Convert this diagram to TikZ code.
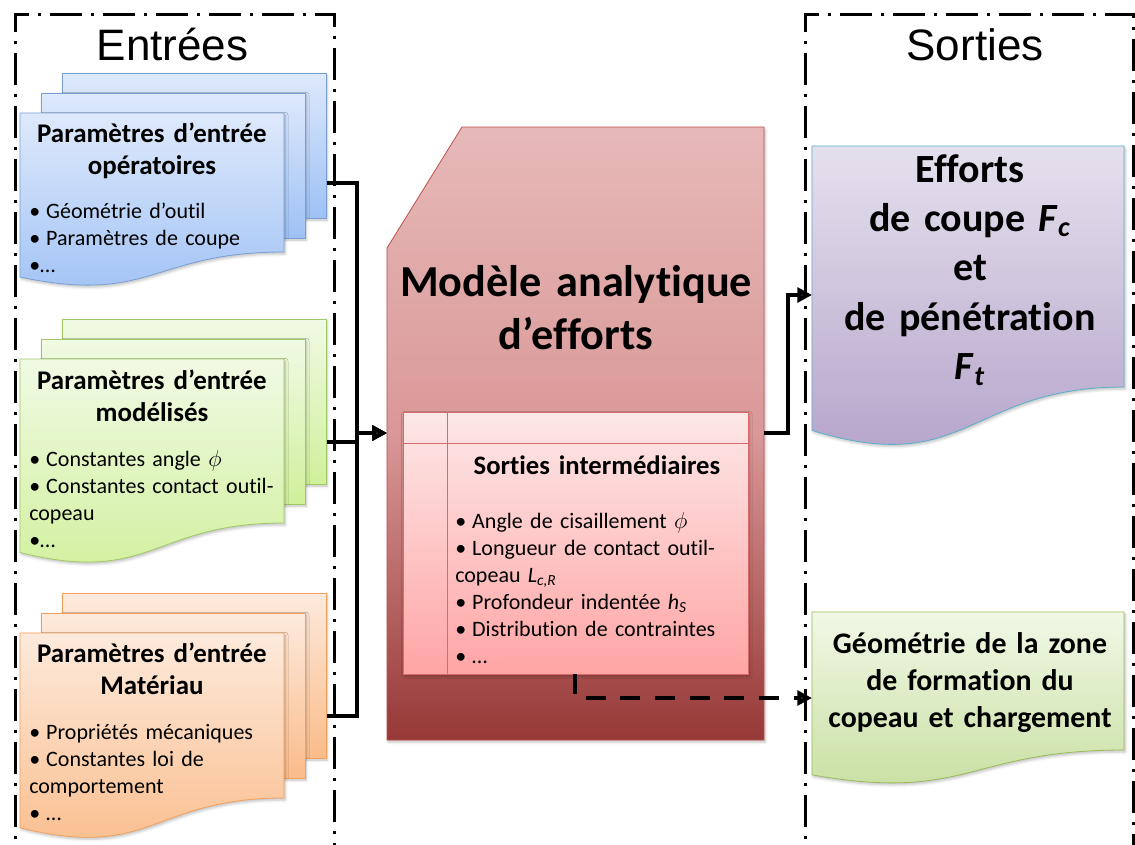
\documentclass[tikz,border=0pt]{standalone}
\usepackage{fontspec}
\setmainfont{Carlito}[Ligatures=NoCommon]
\newfontfamily\headfont{Liberation Sans}
\usetikzlibrary{arrows.meta,shadows.blur}

\definecolor{opTop}{RGB}{222,233,251}
\definecolor{opBot}{RGB}{158,193,245}
\definecolor{opLine}{RGB}{120,160,215}
\definecolor{mdTop}{RGB}{240,250,228}
\definecolor{mdBot}{RGB}{208,240,155}
\definecolor{mdLine}{RGB}{160,200,100}
\definecolor{maTop}{RGB}{253,234,220}
\definecolor{maBot}{RGB}{250,188,138}
\definecolor{maLine}{RGB}{244,160,90}
\definecolor{mlTop}{RGB}{230,185,184}
\definecolor{mlMid}{RGB}{218,152,152}
\definecolor{mlBot}{RGB}{150,56,54}
\definecolor{mlLine}{RGB}{192,80,77}
\definecolor{tbTop}{RGB}{253,232,232}
\definecolor{tbBot}{RGB}{255,165,165}
\definecolor{tbLine}{RGB}{218,105,105}
\definecolor{fcTop}{RGB}{229,224,237}
\definecolor{fcBot}{RGB}{178,161,200}
\definecolor{fcLine}{RGB}{90,175,205}
\definecolor{geTop}{RGB}{241,248,230}
\definecolor{geBot}{RGB}{198,222,158}
\definecolor{geLine}{RGB}{155,187,89}

% page with a wavy bottom: style, left, top, width, height at the right
\newcommand\docshape[5]{%
  \path[#1] (#2,#3) -- ++(#4,0) -- ++(0,#5)
    .. controls +({-0.5*#4},0) and +({0.5*#4},{0.2*#5}) .. (#2,{#3+1.18*#5}) -- cycle;}
\newcommand\itm{•\kern4.5pt}

\begin{document}
\begin{tikzpicture}[
  x=0.75pt,y=-0.75pt,>={Triangle[length=11pt,width=11pt]},
  frame/.style={line width=2.25pt,
    dash pattern=on 24pt off 6.75pt on 2.25pt off 6.75pt},
  shade/.style={blur shadow={shadow xshift=1pt,shadow yshift=-1.5pt,
    shadow blur radius=2pt,shadow opacity=25}},
  sheet/.style={shade,line width=0.6pt,draw=#1Line,top color=#1Top,bottom color=#1Bot},
  model/.style={shade,line width=0.6pt,draw=mlLine,top color=mlTop,
    bottom color=mlBot,middle color=mlMid},
  head/.style={font=\headfont\fontsize{33pt}{40pt}\selectfont,anchor=base,inner sep=0pt},
  doctitle/.style={font=\bfseries\fontsize{20.2pt}{24.5pt}\selectfont,align=center,
    text width=195pt,anchor=base,inner sep=0pt},
  docitem/.style={font=\fontsize{16.5pt}{20.25pt}\selectfont,align=left,
    text width=195pt,anchor=base west,inner sep=0pt},
  bigtitle/.style={font=\bfseries\fontsize{33.2pt}{39.75pt}\selectfont,align=center,
    text width=270pt,anchor=base,inner sep=0pt},
  outtitle/.style={font=\bfseries\fontsize{30pt}{37pt}\selectfont,align=center,
    text width=230pt,anchor=base,inner sep=0pt},
  link/.style={->,line width=3pt},
  hint/.style={link,dash pattern=on 15pt off 11pt}
]
\useasboundingbox (0,0) rectangle (1135,844);

% frames
\draw[frame] (15,880) -- (15,14) -- (334,14) -- (334,880);
\draw[frame] (805,880) -- (805,14) -- (1133,14) -- (1133,880);
\node[head] (hin) at (172.5,60) {Entrées};
\node[head] (hout) at (975,60) {Sorties};

% input stacks
\foreach \d/\e in {42/40,21/20}
  \draw[sheet=op] (20+\d,113-\e) rectangle (284+\d,258-\e);
\docshape{sheet=op}{20}{113}{264}{139}
\foreach \d/\e in {42/40,21/20}
  \draw[sheet=md] (20+\d,359-\e) rectangle (284+\d,524-\e);
\docshape{sheet=md}{20}{359}{264}{164}
\foreach \d/\e in {42/40,21/20}
  \draw[sheet=ma] (20+\d,633-\e) rectangle (284+\d,798-\e);
\docshape{sheet=ma}{20}{633}{264}{165}

\node[doctitle] (opT) at (152,142) {Paramètres d’entrée\\opératoires};
\node[docitem] (opI) at (29,218) {\itm Géométrie d’outil\\\itm Paramètres de coupe\\•…};
\node[doctitle] (mdT) at (152,389) {Paramètres d’entrée\\modélisés};
\node[docitem] (mdI) at (29,466) {\itm Constantes angle $\phi$\\\itm Constantes contact outil-\\copeau\\•…};
\node[doctitle] (maT) at (152,662) {Paramètres d’entrée\\Matériau};
\node[docitem] (maI) at (29,739) {\itm Propriétés mécaniques\\\itm Constantes loi de\\comportement\\\itm …};

% model
\draw[model] (462,127) -- (764,127) -- (764,740) -- (387,740) -- (387,248) -- cycle;
\node[bigtitle] (mdlT) at (576,296) {Modèle analytique\\d’efforts};
\draw[shade,line width=0.6pt,draw=tbLine,top color=tbTop,bottom color=tbBot]
  (403,412) rectangle (748,674);
\draw[line width=0.6pt,draw=tbLine] (403,443) -- (748,443) (447,412) -- (447,674);
\node[doctitle,font=\bfseries\fontsize{20pt}{24pt}\selectfont,text width=250pt]
  (tabT) at (597,474) {Sorties intermédiaires};
\node[docitem,text width=220pt] (tabI) at (455,528) {\itm Angle de cisaillement $\phi$\\
  \itm Longueur de contact outil-\\copeau \textit{L}\textsubscript{\textit{c,R}}\\
  \itm Profondeur indentée \textit{h}\textsubscript{\textit{S}}\\
  \itm Distribution de contraintes\\\itm …};

% outputs
\docshape{sheet=fc}{812}{146}{312}{241}
\node[outtitle] (fcT) at (970,182) {Efforts\\ de coupe \textit{F}\textsubscript{\textit{c}}\\et\\
  de pénétration\\\textit{F}\textsubscript{\textit{t}}};
\docshape{sheet=ge}{812}{612}{312}{138}
\node[outtitle,font=\bfseries\fontsize{22.4pt}{27.75pt}\selectfont,text width=225pt]
  (geT) at (970,653) {Géométrie de la zone\\de formation du\\copeau et chargement};

% connectors
\coordinate (in1) at (327,183);
\coordinate (in2) at (327,442);
\coordinate (in3) at (327,716);
\coordinate (mdlW) at (387,433);
\coordinate (mdlE) at (764,433);
\coordinate (tabS) at (575,674);
\coordinate (out1) at (812,295);
\coordinate (out2) at (812,698);
\foreach \a in {in1,in2,in3}
  \draw[link] (\a) -- ++(30,0) |- (mdlW);
\draw[link] (mdlE) -- ++(24,0) |- (out1);
\draw[hint] (tabS) |- (out2);
\end{tikzpicture}
\end{document}
